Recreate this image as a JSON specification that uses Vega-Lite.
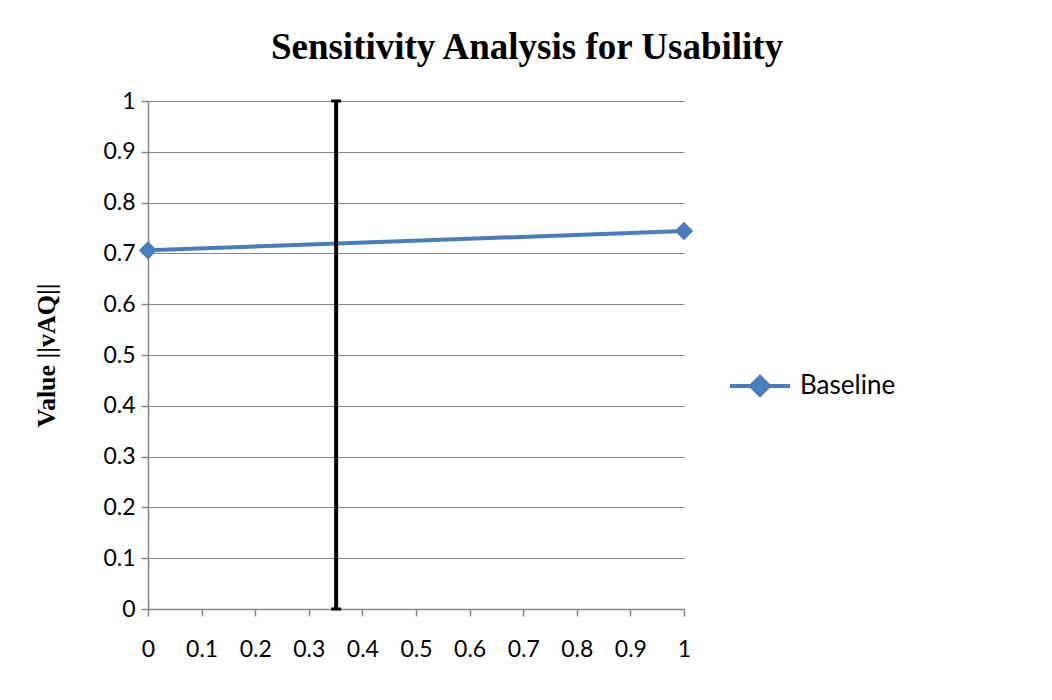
{
  "$schema": "https://vega.github.io/schema/vega-lite/v6.json",
  "width": 536,
  "height": 508,
  "autosize": {"type": "none"},
  "padding": {"left": 148, "top": 101, "right": 368, "bottom": 91},
  "background": "white",
  "title": {
    "text": "Sensitivity Analysis for Usability",
    "font": "Liberation Serif",
    "fontSize": 37,
    "fontWeight": "bold",
    "color": "black",
    "anchor": "middle",
    "dx": 111,
    "offset": 23
  },
  "config": {
    "view": {"stroke": null},
    "axis": {
      "labelFont": "Lato",
      "labelFontSize": 23,
      "labelColor": "black",
      "domainColor": "#868686",
      "tickColor": "#868686",
      "gridColor": "#868686",
      "gridOpacity": 1,
      "domainWidth": 1.5,
      "tickWidth": 1.5,
      "gridWidth": 1.2,
      "tickSize": 7
    }
  },
  "datasets": {
    "series": [
      {"x": 0, "y": 0.706, "series": "Baseline"},
      {"x": 1, "y": 0.744, "series": "Baseline"}
    ],
    "bar": [{"x": 0.351, "lo": 0, "hi": 1}]
  },
  "layer": [
    {
      "data": {"name": "series"},
      "mark": {"type": "line", "color": "#4a7ebb", "strokeWidth": 4},
      "encoding": {
        "x": {
          "field": "x", "type": "quantitative",
          "scale": {"domain": [0, 1], "nice": false},
          "axis": {"values": [0, 0.1, 0.2, 0.3, 0.4, 0.5, 0.6, 0.7, 0.8, 0.9, 1], "grid": false, "title": null, "labelPadding": 22, "labelFlush": false, "format": "~g"}
        },
        "y": {
          "field": "y", "type": "quantitative",
          "scale": {"domain": [0, 1], "nice": false},
          "axis": {
            "values": [0, 0.1, 0.2, 0.3, 0.4, 0.5, 0.6, 0.7, 0.8, 0.9, 1],
            "grid": true,
            "format": "~g",
            "labelPadding": 6,
            "title": "Value ||vAQ||",
            "titleFont": "Liberation Serif",
            "titleFontSize": 26,
            "titleFontWeight": "bold",
            "titleColor": "black",
            "titlePadding": 43
          }
        }
      }
    },
    {
      "data": {"name": "series"},
      "mark": {"type": "point", "shape": "diamond", "filled": true, "opacity": 1, "size": 340, "color": "#4a7ebb"},
      "encoding": {
        "x": {"field": "x", "type": "quantitative"},
        "y": {"field": "y", "type": "quantitative"},
        "color": {
          "field": "series", "type": "nominal",
          "scale": {"range": ["#4a7ebb"]},
          "legend": {
            "title": null,
            "orient": "none",
            "legendX": 580,
            "legendY": 253,
            "symbolType": "M-1,0L1,0M0,-0.3L0.3,0L0,0.3L-0.3,0Z",
            "symbolSize": 3600,
            "symbolStrokeWidth": 4,
            "symbolStrokeColor": "#4a7ebb",
            "symbolFillColor": "#4a7ebb",
            "symbolOpacity": 1,
            "labelFont": "Lato",
            "labelFontSize": 26,
            "labelColor": "black",
            "labelOffset": 8
          }
        }
      }
    },
    {
      "data": {"name": "bar"},
      "mark": {"type": "rule", "color": "black", "strokeWidth": 4},
      "encoding": {
        "x": {"field": "x", "type": "quantitative"},
        "y": {"field": "lo", "type": "quantitative"},
        "y2": {"field": "hi"}
      }
    },
    {
      "data": {"name": "bar"},
      "mark": {"type": "tick", "color": "black", "orient": "horizontal", "size": 10, "thickness": 3, "opacity": 1},
      "encoding": {
        "x": {"field": "x", "type": "quantitative"},
        "y": {"field": "lo", "type": "quantitative"}
      }
    },
    {
      "data": {"name": "bar"},
      "mark": {"type": "tick", "color": "black", "orient": "horizontal", "size": 10, "thickness": 3, "opacity": 1},
      "encoding": {
        "x": {"field": "x", "type": "quantitative"},
        "y": {"field": "hi", "type": "quantitative"}
      }
    }
  ]
}
